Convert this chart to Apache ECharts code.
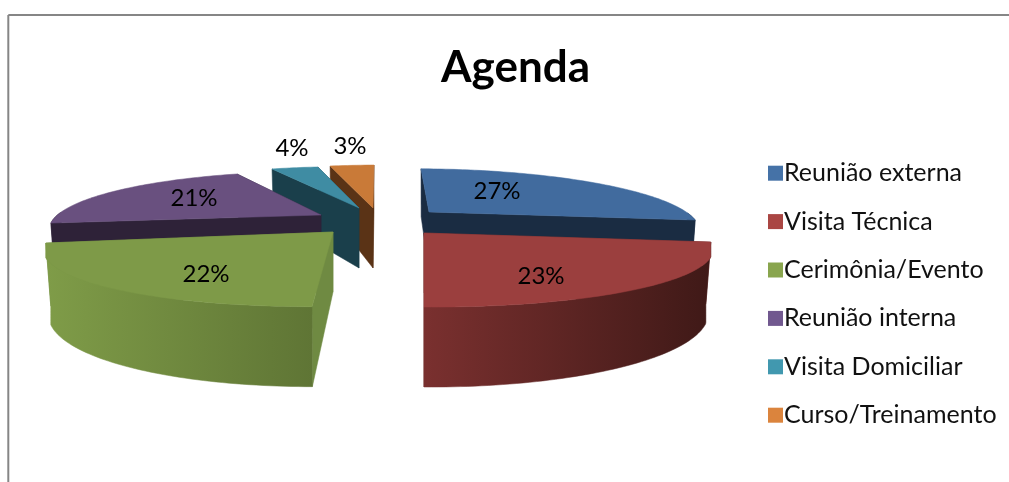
<!DOCTYPE html>
<html><head><meta charset="utf-8">
<style>html,body{margin:0;padding:0;background:#fff}#c{width:1009px;height:482px}</style>
<script src="https://cdn.jsdelivr.net/npm/echarts@6/dist/echarts.min.js"></script>
</head><body><div id="c"></div>
<script>
// ---- data ----
const categories = ['Reunião externa','Visita Técnica','Cerimônia/Evento','Reunião interna','Visita Domiciliar','Curso/Treinamento'];
const shares = [27,23,22,21,4,3];
const chartTitle = 'Agenda';

// ---- appearance ----
const FONT = 'Lato, "Open Sans", sans-serif';
const legendColors = ['#4572A7','#AA4643','#89A54E','#71588F','#4198AF','#DB843D'];
const topColors = ['#416b9e','#9b3f3e','#7e9a48','#69507f','#3f8ca3','#c97a38'];
const edgeColors = ['#1a2c42','#6b2c2a','#6f8a42','#2e2238','#1a3f4b','#5a3316'];
const wallStops = [
  ['#1a2c42','#1a2c42'],['#7a302f','#3f1917'],['#7f9c48','#5f7535'],
  ['#2e2238','#2e2238'],['#1a3f4b','#1a3f4b'],['#5a3316','#5a3316']];
// perspective placement of each exploded slice
const placement = [
  {ax:429,ay:212,R:258.6,S:10,K:54,T:1,label:[68,-21]},
  {ax:424,ay:233,R:280,S:0,K:55.5,T:1.8,label:[117,43]},
  {ax:333,ay:232,R:275.6,S:-15.75,K:56,T:0,label:[-127,42]},
  {ax:321,ay:215,R:260.4,S:-8.8,K:54.4,T:2.56,label:[-127,-17]},
  {ax:359,ay:208,R:235,S:7.3,K:51.4,T:3.2,label:[-67,-60]},
  {ax:373,ay:208,R:292,S:-1.25,K:53.75,T:-2.6,label:[-23,-62]}
];
const drawRank = [4,6,5,3,2,1];
const PERSP = 0.25, DEPTH = 60, TAPER = 0.017;

const total = shares.reduce((a,b)=>a+b,0);
const startAngles = [];
shares.reduce((acc,v,i)=>{startAngles[i]=acc/total*2*Math.PI;return acc+v;},0);

function project(p,ang,f,lo,hi){
  const X=Math.sin(ang)*f, Y=-Math.cos(ang)*f, w=1/(1-PERSP*Y);
  let x=p.ax+(p.R*X+p.S*Y)*w;
  const y=p.ay+(p.K*Y+p.T*X)*w;
  if(lo!==undefined) x=Math.min(hi,Math.max(lo,x));   // keep the rim corner sharp
  return {top:[x,y], bottom:[p.ax+(x-p.ax)*(1-TAPER), y+DEPTH*w]};
}
function arcPoints(p,a0,a1,lo,hi){
  const n=Math.max(2,Math.ceil((a1-a0)/0.02)), pts=[];
  for(let k=0;k<=n;k++) pts.push(project(p,a0+(a1-a0)*k/n,1,lo,hi));
  return pts;
}
function polygon(points,fill,z2){
  return {type:'polygon',z2:z2,shape:{points:points},style:{fill:fill,stroke:fill,lineWidth:0.5}};
}
function renderSlice(i){
  const p=placement[i], a0=startAngles[i], a1=a0+shares[i]/total*2*Math.PI;
  const apex=project(p,0,0), s=project(p,a0,1), e=project(p,a1,1);
  const lo=Math.min(apex.top[0],s.top[0],e.top[0]), hi=Math.max(apex.top[0],s.top[0],e.top[0]);
  const kids=[];
  const radial=[[a0,s],[a1,e]].sort((m,n)=>(-Math.cos(m[0]))-(-Math.cos(n[0])));
  radial.forEach((r,k)=>kids.push(polygon([apex.top,r[1].top,r[1].bottom,apex.bottom],edgeColors[i],k+1)));
  const f0=Math.max(a0,Math.PI/2), f1=Math.min(a1,Math.PI*1.5);
  if(f1>f0){
    const arc=arcPoints(p,f0,f1,lo,hi);
    const pts=arc.map(q=>q.top).concat(arc.map(q=>q.bottom).reverse());
    const st=wallStops[i];
    const fill={type:'linear',x:0,y:0,x2:1,y2:0,colorStops:[{offset:0,color:st[0]},{offset:1,color:st[1]}]};
    kids.push(polygon(pts,fill,4));
  }
  const rim=arcPoints(p,a0,a1,lo,hi).map(q=>q.top);
  kids.push(polygon([apex.top].concat(rim),topColors[i],5));
  kids.push({type:'text',z2:6,x:p.ax+p.label[0],y:p.ay+p.label[1],
    style:{text:shares[i]+'%',fill:'#000',font:'24px '+FONT,align:'center',verticalAlign:'middle'}});
  return {type:'group',children:kids};
}

const series = categories.map((name,i)=>({
  type:'custom',name:name,coordinateSystem:'none',z:drawRank[i],silent:true,
  itemStyle:{color:legendColors[i]},
  data:[[shares[i]]],
  renderItem:()=>renderSlice(i)
}));

const chart = echarts.init(document.getElementById('c'),null,{renderer:'canvas'});
chart.setOption({
  animation:false,backgroundColor:'#fff',
  title:{text:chartTitle,left:510.5,top:41,textAlign:'center',
    textStyle:{fontFamily:FONT,fontWeight:'bold',fontSize:44,color:'#000'}},
  legend:{orient:'vertical',left:763,top:154,icon:'rect',itemWidth:15,itemHeight:15,itemGap:20,
    selectedMode:false,data:categories,
    textStyle:{fontFamily:FONT,fontSize:25,color:'#111',height:28.4,lineHeight:28.4,padding:[0,0,0,-4]}},
  graphic:[
    {type:'line',shape:{x1:8.3,y1:15,x2:1009,y2:15},style:{stroke:'#868686',lineWidth:2},silent:true},
    {type:'line',shape:{x1:8.3,y1:15,x2:8.3,y2:482},style:{stroke:'#868686',lineWidth:2},silent:true}
  ],
  series:series
});
</script></body></html>
